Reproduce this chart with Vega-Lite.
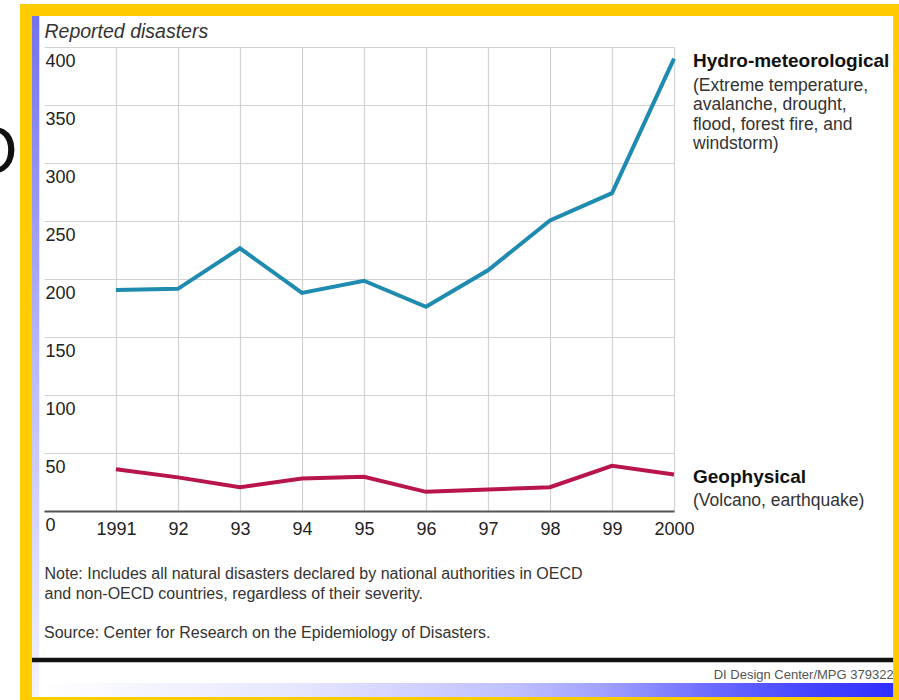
{
  "$schema": "https://vega.github.io/schema/vega-lite/v6.json",
  "width": 630,
  "height": 464,
  "autosize": {"type": "none"},
  "padding": {"left": 44, "top": 47, "right": 225, "bottom": 189},
  "background": "white",
  "config": {
    "view": {"stroke": null},
    "font": "Liberation Sans",
    "axisX": {
      "grid": true, "gridColor": "#d2d2d2", "gridWidth": 1.2,
      "ticks": false, "tickSize": 0,
      "domain": true, "domainColor": "#555555", "domainWidth": 2,
      "labelFontSize": 18, "labelColor": "#222222", "labelPadding": 9.5,
      "labelFlush": false, "labelOverlap": false, "labelBound": false,
      "titleFontSize": 16, "titleFontWeight": "normal", "titleColor": "#333333",
      "titleAnchor": "start", "titleAlign": "left", "titleBaseline": "top",
      "titleLineHeight": 20, "titlePadding": 27
    },
    "axisY": {
      "grid": true, "gridColor": "#d2d2d2", "gridWidth": 1.2,
      "ticks": false, "tickSize": 0, "domain": false,
      "labelFontSize": 18, "labelColor": "#222222",
      "labelAlign": "left", "labelBaseline": "top", "labelPadding": -1, "labelOffset": 5.5,
      "labelOverlap": false, "labelBound": false,
      "titleAngle": 0, "titleAlign": "left", "titleBaseline": "alphabetic",
      "titleX": 0, "titleY": -10, "titleFontSize": 19.5, "titleFontStyle": "italic", "titleFontWeight": "normal", "titleColor": "#333333"
    }
  },
  "datasets": {
    "disasters": [
      {"year": 1991, "value": 190.5, "series": "Hydro-meteorological"},
      {"year": 1992, "value": 191.5, "series": "Hydro-meteorological"},
      {"year": 1993, "value": 226.5, "series": "Hydro-meteorological"},
      {"year": 1994, "value": 188, "series": "Hydro-meteorological"},
      {"year": 1995, "value": 198.5, "series": "Hydro-meteorological"},
      {"year": 1996, "value": 176, "series": "Hydro-meteorological"},
      {"year": 1997, "value": 207.5, "series": "Hydro-meteorological"},
      {"year": 1998, "value": 250.5, "series": "Hydro-meteorological"},
      {"year": 1999, "value": 274, "series": "Hydro-meteorological"},
      {"year": 2000, "value": 390, "series": "Hydro-meteorological"},
      {"year": 1991, "value": 36, "series": "Geophysical"},
      {"year": 1992, "value": 29, "series": "Geophysical"},
      {"year": 1993, "value": 20.5, "series": "Geophysical"},
      {"year": 1994, "value": 28, "series": "Geophysical"},
      {"year": 1995, "value": 29.5, "series": "Geophysical"},
      {"year": 1996, "value": 16.5, "series": "Geophysical"},
      {"year": 1997, "value": 18.5, "series": "Geophysical"},
      {"year": 1998, "value": 20.5, "series": "Geophysical"},
      {"year": 1999, "value": 39, "series": "Geophysical"},
      {"year": 2000, "value": 31.5, "series": "Geophysical"}
    ],
    "labels": [
      {"series": "Hydro-meteorological", "desc": "(Extreme temperature,\navalanche, drought,\nflood, forest fire, and\nwindstorm)"},
      {"series": "Geophysical", "desc": "(Volcano, earthquake)"}
    ]
  },
  "layer": [
    {
      "data": {"name": "disasters"},
      "mark": {"type": "line", "strokeWidth": 4},
      "encoding": {
        "x": {
          "field": "year", "type": "quantitative",
          "scale": {"domain": [1989.84, 2000], "nice": false, "zero": false},
          "axis": {
            "values": [1991, 1992, 1993, 1994, 1995, 1996, 1997, 1998, 1999, 2000],
            "labelExpr": "datum.value == 1991 || datum.value == 2000 ? '' + datum.value : substring('' + datum.value, 2)",
            "title": ["Note: Includes all natural disasters declared by national authorities in OECD", "and non-OECD countries, regardless of their severity."]
          }
        },
        "y": {
          "field": "value", "type": "quantitative",
          "scale": {"domain": [0, 400], "nice": false},
          "axis": {"values": [0, 50, 100, 150, 200, 250, 300, 350, 400], "title": "Reported disasters"}
        },
        "color": {
          "field": "series", "type": "nominal",
          "scale": {"domain": ["Hydro-meteorological", "Geophysical"], "range": ["#1f8bb0", "#b8164a"]},
          "legend": null
        }
      }
    },
    {
      "data": {"name": "disasters"},
      "transform": [{"filter": "datum.year == 2000"}],
      "mark": {"type": "text", "align": "left", "baseline": "middle", "dx": 19, "dy": 2.5, "fontSize": 19, "fontWeight": "bold", "color": "#111111"},
      "encoding": {
        "x": {"field": "year", "type": "quantitative"},
        "y": {"field": "value", "type": "quantitative"},
        "text": {"field": "series"}
      }
    },
    {
      "data": {"name": "disasters"},
      "transform": [
        {"filter": "datum.year == 2000"},
        {"lookup": "series", "from": {"data": {"name": "labels"}, "key": "series", "fields": ["desc"]}}
      ],
      "mark": {"type": "text", "align": "left", "baseline": "top", "dx": 19, "dy": 18, "fontSize": 17.5, "lineHeight": 19.5, "lineBreak": "\n", "color": "#333333"},
      "encoding": {
        "x": {"field": "year", "type": "quantitative"},
        "y": {"field": "value", "type": "quantitative"},
        "text": {"field": "desc"}
      }
    },
    {
      "data": {"values": [{}]},
      "mark": {"type": "text", "text": "Source: Center for Research on the Epidemiology of Disasters.", "align": "left", "baseline": "middle", "fontSize": 16, "color": "#333333"},
      "encoding": {
        "x": {"datum": 1989.84, "type": "quantitative"},
        "y": {"datum": -105.5, "type": "quantitative"}
      }
    },
    {
      "data": {"values": [{}]},
      "mark": {"type": "rect", "fill": {"gradient": "linear", "x1": 0, "y1": 0, "x2": 0, "y2": 1, "stops": [{"offset": 0, "color": "#7272ee"}, {"offset": 0.5, "color": "#b8b8fa"}, {"offset": 1, "color": "#f4f4ff"}]}},
      "encoding": {
        "x": {"datum": 1989.646, "type": "quantitative"},
        "x2": {"datum": 1989.764},
        "y": {"datum": 426.7, "type": "quantitative"},
        "y2": {"datum": -160.3}
      }
    },
    {
      "data": {"values": [{}]},
      "mark": {"type": "rect", "fill": {"gradient": "linear", "x1": 0, "y1": 0, "x2": 1, "y2": 0, "stops": [{"offset": 0, "color": "#ffffff"}, {"offset": 0.3, "color": "#e6e6ff"}, {"offset": 0.55, "color": "#c0c0ff"}, {"offset": 0.66, "color": "#a0a0ff"}, {"offset": 0.78, "color": "#6c6cff"}, {"offset": 0.9, "color": "#4444ff"}, {"offset": 1, "color": "#2e2eff"}]}},
      "encoding": {
        "x": {"datum": 1989.764, "type": "quantitative"},
        "x2": {"datum": 2003.6},
        "y": {"datum": -148.3, "type": "quantitative"},
        "y2": {"datum": -160.3}
      }
    },
    {
      "data": {"values": [{}]},
      "mark": {"type": "rule", "color": "#111111", "strokeWidth": 4.5},
      "encoding": {
        "x": {"datum": 1989.6, "type": "quantitative"},
        "x2": {"datum": 2003.6},
        "y": {"datum": -128.4, "type": "quantitative"}
      }
    },
    {
      "data": {"values": [{}]},
      "mark": {"type": "text", "text": "DI Design Center/MPG 379322/", "align": "right", "baseline": "middle", "fontSize": 13, "color": "#555555"},
      "encoding": {
        "x": {"datum": 2003.6, "type": "quantitative"},
        "y": {"datum": -141, "type": "quantitative"}
      }
    },
    {
      "data": {"values": [{}]},
      "mark": {"type": "text", "text": "O", "align": "center", "baseline": "middle", "fontSize": 66, "color": "#111111"},
      "encoding": {
        "x": {"datum": 1989.0, "type": "quantitative"},
        "y": {"datum": 308.6, "type": "quantitative"}
      }
    },
    {
      "data": {"values": [{}]},
      "mark": {"type": "rect", "fillOpacity": 0, "stroke": "#FFCC00", "strokeWidth": 12},
      "encoding": {
        "x": {"datum": 1989.55, "type": "quantitative"},
        "x2": {"datum": 2003.63},
        "y": {"datum": 431.9, "type": "quantitative"},
        "y2": {"datum": -165.5}
      }
    }
  ]
}
